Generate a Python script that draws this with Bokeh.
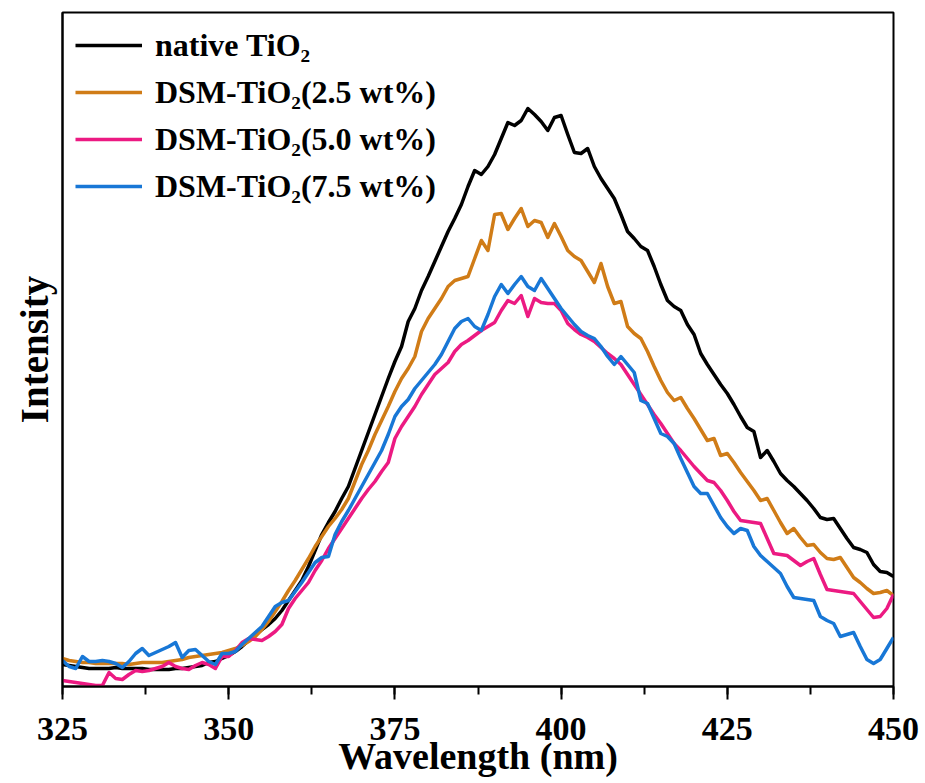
from bokeh.plotting import figure
from bokeh.models import Range1d, SingleIntervalTicker, Legend, LegendItem, FixedTicker
from bokeh.embed import file_html
from bokeh.resources import INLINE

wavelength = list(range(325, 451))

native = [22, 21, 20, 19, 18, 18, 18, 18, 19, 18, 18, 18, 18, 17, 17, 17, 17, 18, 18, 19,
          20, 21, 24, 25, 28, 31, 35, 40, 46, 52, 57, 62, 68, 76, 86, 96, 106, 120, 136, 152,
          164, 175, 188, 200, 218, 236, 254, 272, 290, 308, 325, 340, 365, 378, 396, 410, 425, 440, 455, 468,
          482, 500, 516, 512, 520, 532, 548, 564, 561, 566, 578, 572, 565, 556, 569, 571, 552, 534, 533, 538,
          520, 508, 498, 488, 472, 455, 448, 440, 436, 420, 402, 386, 380, 376, 362, 352, 333, 322, 312, 302,
          293, 282, 270, 259, 255, 229, 236, 225, 213, 206, 200, 193, 186, 178, 169, 167, 168, 158, 148, 139,
          137, 134, 122, 115, 114, 110]

dsm_25 = [28, 26, 25, 24, 24, 23, 23, 23, 23, 23, 22, 23, 24, 24, 24, 24, 25, 26, 27, 29,
          30, 31, 32, 33, 34, 36, 38, 41, 45, 50, 57, 65, 75, 85, 96, 106, 117, 128, 140, 150,
          160, 168, 177, 188, 205, 222, 236, 252, 266, 280, 295, 308, 318, 330, 355, 368, 378, 388, 400, 406,
          408, 410, 428, 446, 436, 472, 473, 457, 468, 478, 460, 466, 464, 449, 463, 450, 436, 430, 426, 415,
          404, 423, 400, 383, 385, 360, 353, 348, 335, 320, 306, 294, 286, 289, 278, 268, 257, 246, 248, 231,
          233, 224, 214, 205, 196, 186, 188, 176, 164, 153, 158, 149, 141, 142, 134, 128, 127, 129, 119, 109,
          104, 98, 93, 94, 96, 91]

dsm_50 = [6, 5, 4, 3, 2, 1, 1, 14, 8, 7, 12, 16, 15, 16, 18, 20, 24, 20, 18, 17,
          21, 24, 22, 18, 30, 30, 36, 44, 48, 47, 46, 50, 55, 62, 78, 88, 96, 104, 116, 126,
          138, 148, 158, 168, 178, 188, 197, 205, 215, 224, 248, 260, 270, 280, 292, 302, 312, 318, 324, 335,
          342, 346, 351, 356, 360, 364, 376, 386, 383, 391, 370, 388, 384, 383, 383, 376, 363, 357, 352, 349,
          345, 339, 333, 328, 322, 312, 302, 292, 282, 272, 263, 253, 243, 236, 228, 220, 213, 206, 204, 196,
          186, 175, 166, 165, 164, 163, 148, 133, 132, 131, 126, 121, 125, 128, 112, 97, 96, 95, 94, 93,
          85, 77, 69, 70, 78, 92]

dsm_75 = [26, 20, 18, 30, 25, 25, 26, 25, 23, 19, 25, 33, 38, 31, 34, 37, 40, 44, 29, 36,
          37, 31, 25, 22, 33, 33, 35, 42, 48, 54, 60, 70, 80, 84, 86, 95, 104, 114, 124, 129,
          130, 152, 165, 176, 188, 200, 212, 224, 236, 252, 270, 280, 287, 298, 306, 314, 322, 332, 345, 358,
          365, 368, 360, 356, 372, 390, 402, 393, 402, 410, 400, 396, 408, 398, 388, 378, 370, 362, 355, 351,
          348, 340, 330, 322, 330, 322, 314, 286, 283, 268, 253, 250, 243, 228, 214, 200, 193, 193, 181, 169,
          160, 153, 158, 156, 140, 131, 125, 119, 113, 100, 89, 88, 87, 86, 70, 66, 63, 50, 52, 54,
          40, 27, 23, 27, 38, 49]

series_names = ["native TiO\u2082", "DSM-TiO\u2082(2.5 wt%)", "DSM-TiO\u2082(5.0 wt%)", "DSM-TiO\u2082(7.5 wt%)"]
series_values = [native, dsm_25, dsm_50, dsm_75]
colors = ["#000000", "#D07C17", "#EC1A82", "#1877D6"]

x_ticks = [325, 350, 375, 400, 425, 450]

FONT = "Liberation Serif"

p = figure(width=925, height=783, output_backend="svg", toolbar_location=None,
           x_range=Range1d(325, 450), y_range=Range1d(0, 674),
           min_border_left=62, min_border_right=32, min_border_top=12, min_border_bottom=97)
p.grid.visible = False
p.outline_line_color = "black"
p.outline_line_width = 2
p.background_fill_color = "white"
p.border_fill_color = "white"

items = []
for name, vals, col in zip(series_names, series_values, colors):
    r = p.line(wavelength, vals, line_color=col, line_width=3.5, line_join="round")
    items.append(LegendItem(label=name, renderers=[r]))

# x axis
xa = p.xaxis[0]
xa.ticker = SingleIntervalTicker(interval=25, num_minor_ticks=2)
xa.axis_line_width = 2
xa.major_tick_line_width = 2
xa.minor_tick_line_width = 2
xa.major_tick_in = 0
xa.major_tick_out = 13
xa.minor_tick_in = 0
xa.minor_tick_out = 8
xa.major_label_text_font = FONT
xa.major_label_text_font_style = "bold"
xa.major_label_text_font_size = "34px"
xa.major_label_text_color = "black"
xa.major_label_standoff = 18
xa.axis_label = "Wavelength (nm)"
xa.axis_label_text_font = FONT
xa.axis_label_text_font_style = "bold"
xa.axis_label_text_font_size = "38px"
xa.axis_label_text_color = "black"
xa.axis_label_standoff = -8

# y axis
ya = p.yaxis[0]
ya.ticker = FixedTicker(ticks=[])
ya.axis_line_width = 2
ya.major_tick_in = 0
ya.major_tick_out = 0
ya.minor_tick_in = 0
ya.minor_tick_out = 0
ya.major_label_text_font_size = "0px"
ya.major_label_standoff = 0
ya.axis_label = "Intensity"
ya.axis_label_text_font = FONT
ya.axis_label_text_font_style = "bold"
ya.axis_label_text_font_size = "39px"
ya.axis_label_text_color = "black"
ya.axis_label_standoff = 7

legend = Legend(items=items, location="top_left", margin=13, padding=0, spacing=7,
                label_height=40, glyph_height=40, glyph_width=67, label_standoff=13,
                background_fill_alpha=0, border_line_color=None,
                label_text_font=FONT, label_text_font_style="bold",
                label_text_font_size="32px", label_text_color="black")
p.add_layout(legend)

open("out.html", "w").write(file_html(p, INLINE))
